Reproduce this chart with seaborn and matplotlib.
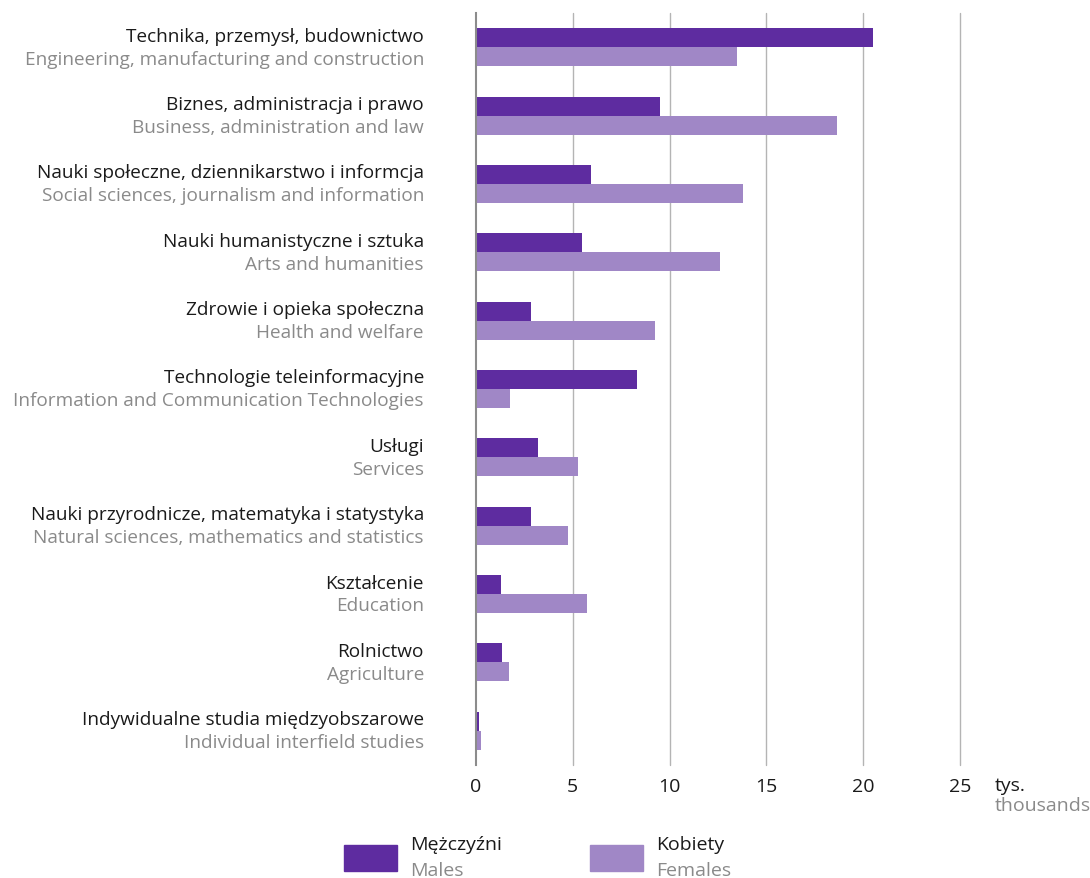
import seaborn as sns
import matplotlib.pyplot as plt
import pandas as pd
from matplotlib.patches import Rectangle

# fields of study, polish + english names
fields_pl = [
    "Technika, przemysł, budownictwo",
    "Biznes, administracja i prawo",
    "Nauki społeczne, dziennikarstwo i informcja",
    "Nauki humanistyczne i sztuka",
    "Zdrowie i opieka społeczna",
    "Technologie teleinformacyjne",
    "Usługi",
    "Nauki przyrodnicze, matematyka i statystyka",
    "Kształcenie",
    "Rolnictwo",
    "Indywidualne studia międzyobszarowe",
]
fields_en = [
    "Engineering, manufacturing and construction",
    "Business, administration and law",
    "Social sciences, journalism and information",
    "Arts and humanities",
    "Health and welfare",
    "Information and Communication Technologies",
    "Services",
    "Natural sciences, mathematics and statistics",
    "Education",
    "Agriculture",
    "Individual interfield studies",
]
# thousands of graduates
males = [20.5, 9.5, 5.95, 5.45, 2.85, 8.3, 3.2, 2.85, 1.3, 1.35, 0.17]
females = [13.5, 18.65, 13.8, 12.6, 9.25, 1.75, 5.25, 4.75, 5.75, 1.7, 0.25]
x_ticks = [0, 5, 10, 15, 20, 25]

c_male = "#5e2ca0"
c_female = "#a087c6"
grey_txt = "#8a8a8a"
fs = 14
fs_lab = 13.7

df = pd.DataFrame({
    "field": fields_pl * 2,
    "value": males + females,
    "sex": ["M"] * len(males) + ["K"] * len(females),
})

sns.set_theme(style="white")
plt.rcParams["font.family"] = ["Open Sans", "DejaVu Sans"]

fig = plt.figure(figsize=(10.9, 8.79), dpi=100)
ax = fig.add_axes([476 / 1090, 113 / 879, 484 / 1090, 752 / 879])

sns.barplot(data=df, y="field", x="value", hue="sex", orient="h",
            palette={"M": c_male, "K": c_female}, width=0.556,
            legend=False, ax=ax, saturation=1, edgecolor="none")

ax.set_xlim(0, 25)
ax.set_ylim(len(fields_pl) - 0.5, -0.5)
ax.set_xticks(x_ticks)
ax.set_xticklabels([str(t) for t in x_ticks], fontsize=fs, color="#1a1a1a")
ax.tick_params(axis="x", length=0, pad=9)
ax.set_yticks([])
ax.set_xlabel("")
ax.set_ylabel("")
for s in ["top", "right", "bottom"]:
    ax.spines[s].set_visible(False)
ax.spines["left"].set_color("#8c8c8c")
ax.spines["left"].set_linewidth(1.5)
for t in x_ticks[1:]:
    ax.axvline(t, color="#b4b4b4", lw=1, zorder=0, clip_on=False)

# two-line category labels
for i, (pl, en) in enumerate(zip(fields_pl, fields_en)):
    ax.annotate(pl, xy=(0, i), xytext=(-37.5, 8.3), textcoords="offset points",
                ha="right", va="center", fontsize=fs_lab, color="#1a1a1a")
    ax.annotate(en, xy=(0, i), xytext=(-37.5, -8.2), textcoords="offset points",
                ha="right", va="center", fontsize=fs_lab, color=grey_txt)

# unit label
fig.text(995 / 1090, 1 - 786 / 879, "tys.", fontsize=fs, color="#1a1a1a", va="center")
fig.text(995 / 1090, 1 - 806 / 879, "thousands", fontsize=fs, color=grey_txt, va="center")

# legend
for x0, c, pl, en in [(344, c_male, "Mężczyźni", "Males"), (590, c_female, "Kobiety", "Females")]:
    fig.add_artist(Rectangle((x0 / 1090, 1 - 872 / 879), 53 / 1090, 26 / 879,
                             transform=fig.transFigure, color=c))
    fig.text((x0 + 66) / 1090, 1 - 845 / 879, pl, fontsize=fs, color="#1a1a1a", va="center")
    fig.text((x0 + 66) / 1090, 1 - 871 / 879, en, fontsize=fs, color=grey_txt, va="center")

fig.savefig("out.png", dpi=100)
